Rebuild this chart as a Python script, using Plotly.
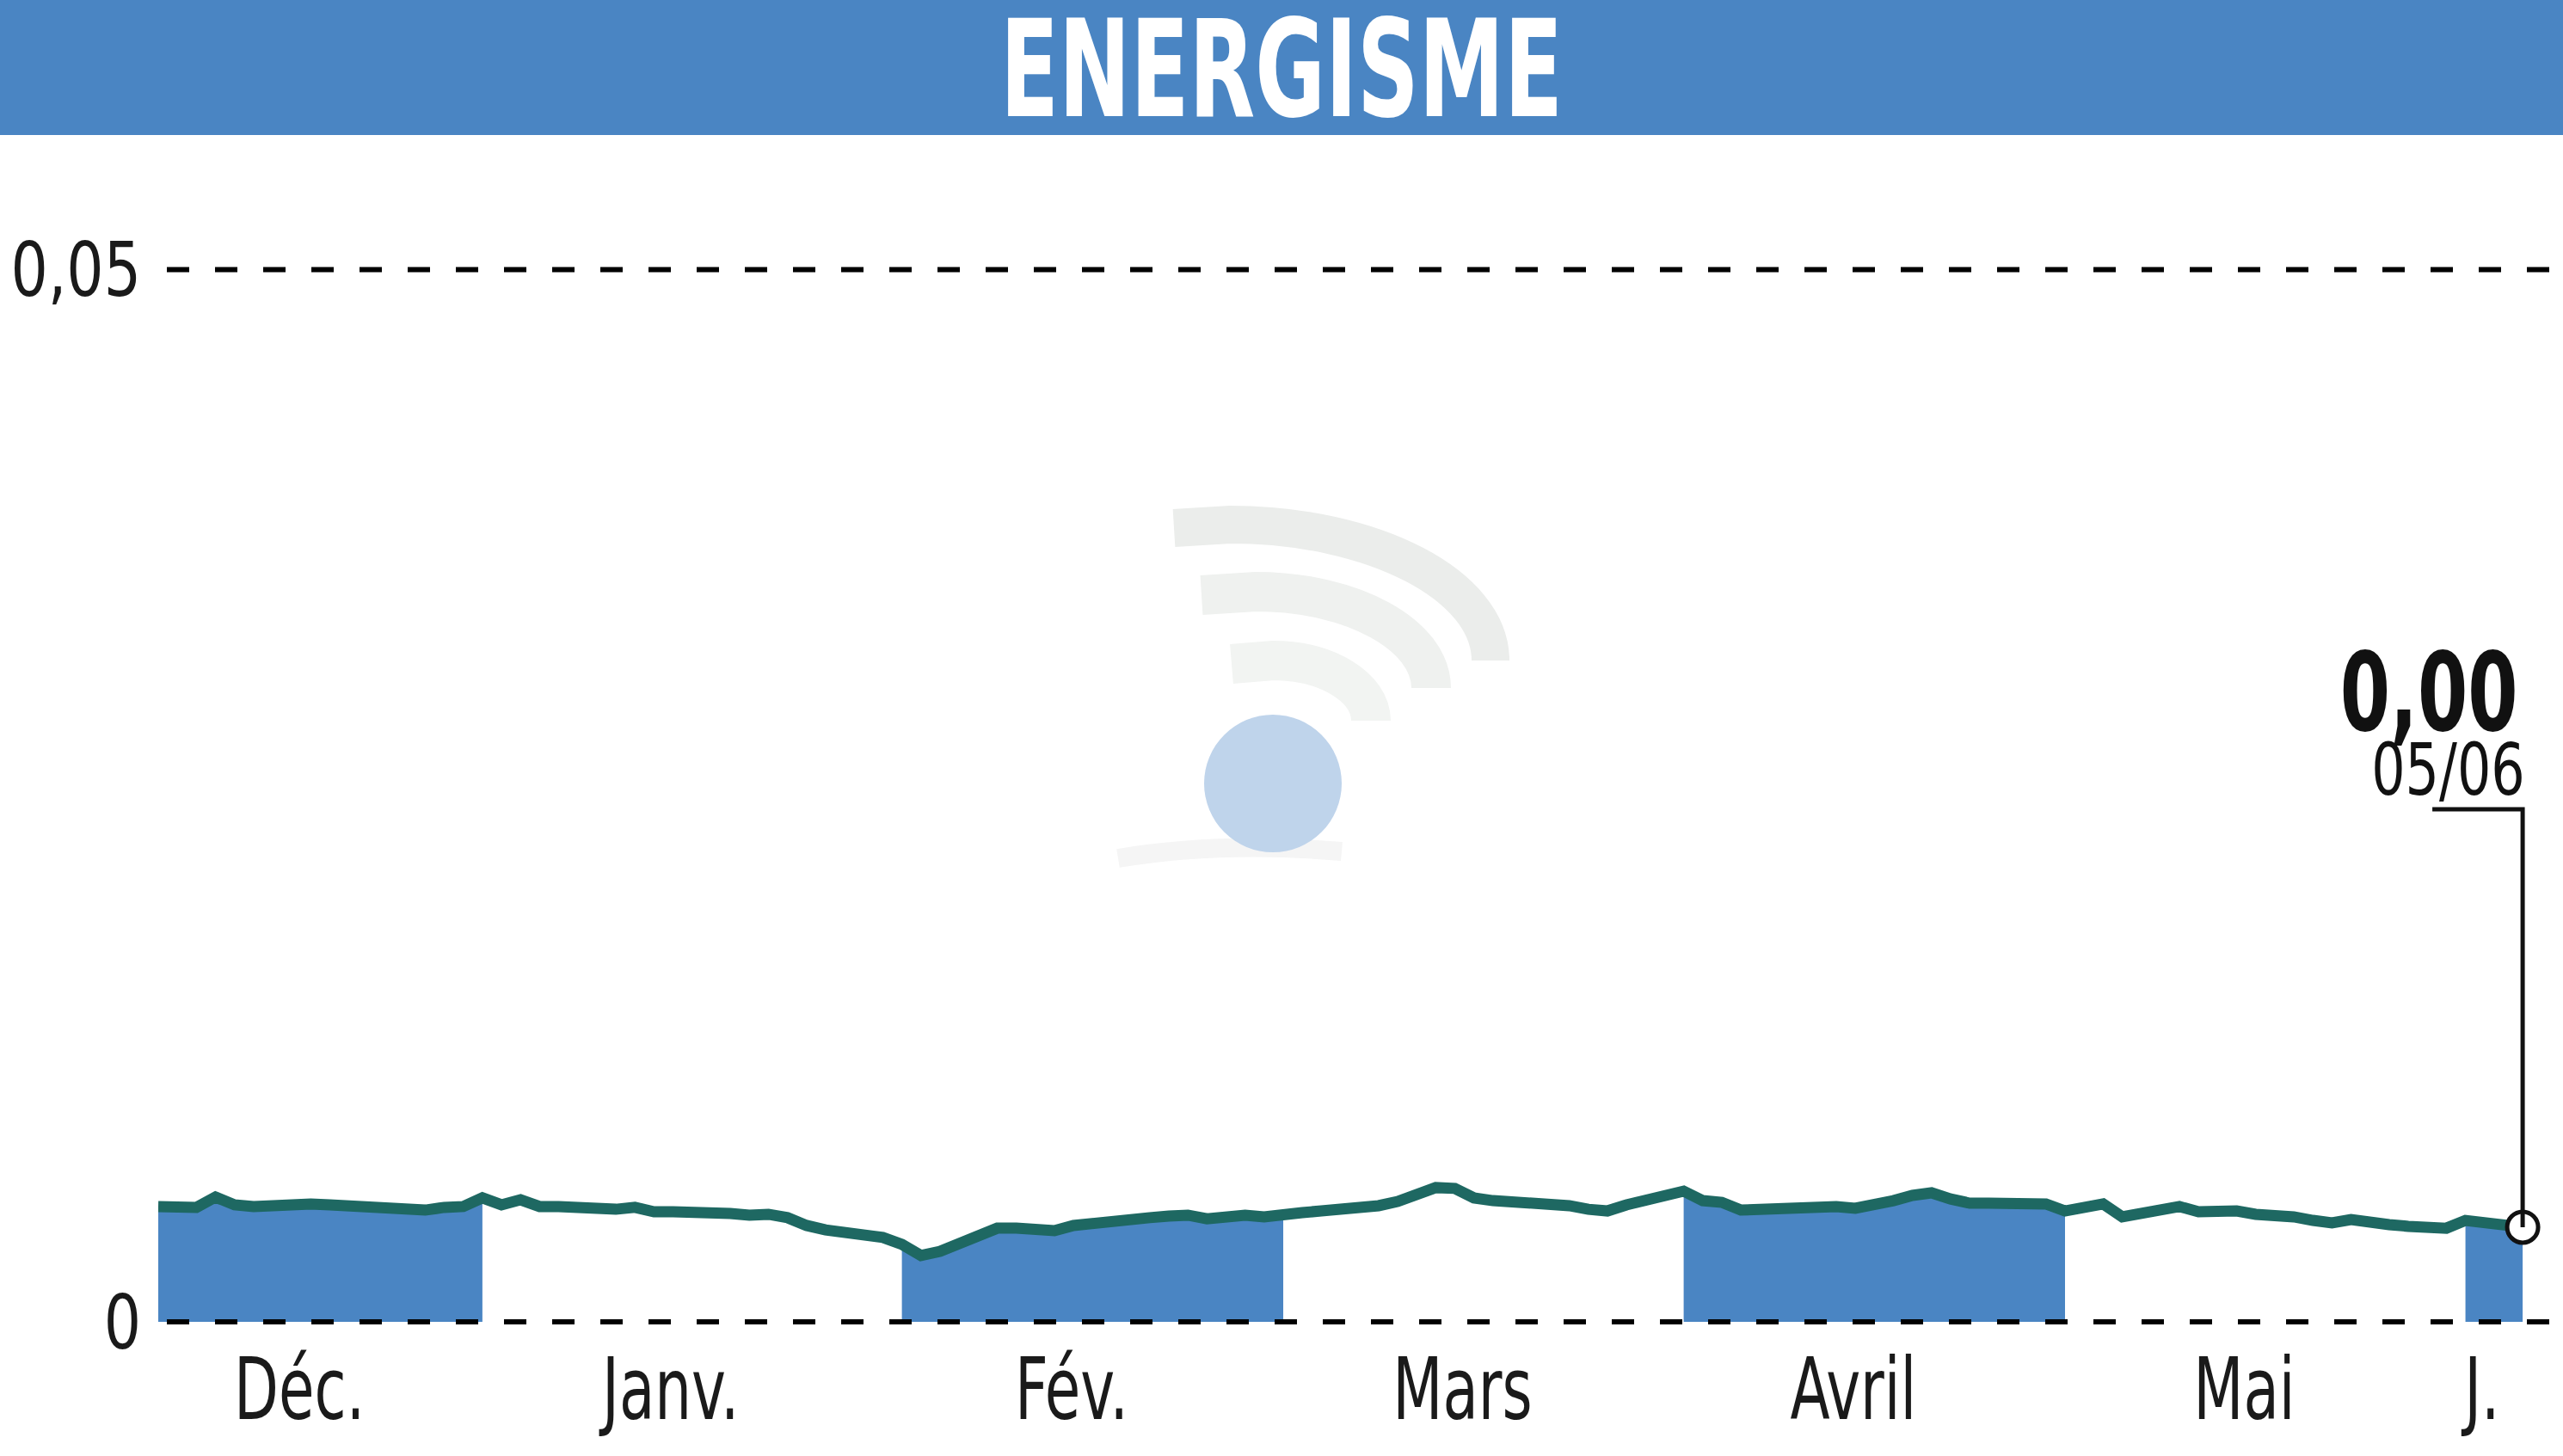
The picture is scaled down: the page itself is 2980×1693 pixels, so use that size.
import plotly.graph_objects as go
import pandas as pd

# ---------------- data ----------------
title_text = "ENERGISME"

# closing prices (EUR), one per trading day from 05/12/2024 to 05/06/2025
prices = [
    0.00548, 0.00552, 0.00544, 0.00593, 0.00556, 0.00548, 0.00556, 0.00564, 0.00560, 0.00556,
    0.00552, 0.00548, 0.00548, 0.00535, 0.00531, 0.00544, 0.00548, 0.00589, 0.00556, 0.00580,
    0.00548, 0.00548, 0.00544, 0.00535, 0.00535, 0.00544, 0.00523, 0.00523, 0.00523, 0.00527,
    0.00515, 0.00507, 0.00511, 0.00495, 0.00458, 0.00437, 0.00421, 0.00405, 0.00401, 0.00368,
    0.00315, 0.00335, 0.00368, 0.00405, 0.00445, 0.00445, 0.00433, 0.00433, 0.00458, 0.00470,
    0.00470, 0.00482, 0.00495, 0.00503, 0.00507, 0.00490, 0.00499, 0.00507, 0.00499, 0.00503,
    0.00519, 0.00527, 0.00531, 0.00540, 0.00552, 0.00572, 0.00601, 0.00638, 0.00634, 0.00589,
    0.00576, 0.00572, 0.00568, 0.00560, 0.00552, 0.00535, 0.00527, 0.00556, 0.00576, 0.00597,
    0.00621, 0.00576, 0.00568, 0.00531, 0.00535, 0.00535, 0.00531, 0.00540, 0.00548, 0.00540,
    0.00552, 0.00576, 0.00601, 0.00613, 0.00584, 0.00564, 0.00564, 0.00564, 0.00564, 0.00560,
    0.00527, 0.00544, 0.00560, 0.00499, 0.00515, 0.00531, 0.00548, 0.00523, 0.00527, 0.00527,
    0.00511, 0.00507, 0.00499, 0.00482, 0.00470, 0.00486, 0.00470, 0.00462, 0.00454, 0.00450,
    0.00445, 0.00482, 0.00470, 0.00458, 0.00450,
]

start_date = "2024-12-05"
end_date = "2025-06-05"
market_holidays = ["2024-12-25", "2024-12-26", "2025-01-01", "2025-04-18", "2025-04-21", "2025-05-01"]

month_labels = {12: "Déc.", 1: "Janv.", 2: "Fév.", 3: "Mars", 4: "Avril", 5: "Mai", 6: "J."}
shaded_months = [12, 2, 4, 6]

y_tickvals = [0, 0.05]
y_ticktext = ["0", "0,05"]

last_value_text = "0,00"
last_date_text = "05/06"

# ---------------- styling ----------------
BLUE = "#4a85c3"
LINE = "#1e6862"
FONT = "DejaVu Sans Condensed, Liberation Sans Narrow, DejaVu Sans, sans-serif"

W, H = 2980, 1693
L, R, T, B = 184, 2980, 157, 1549
PX_PER_DAY = 22.17
PX_PER_UNIT = 24468.0

dates = [d for d in pd.bdate_range(start_date, end_date) if d.strftime("%Y-%m-%d") not in market_holidays]
n = len(prices)
assert len(dates) == n, (len(dates), n)
idx = list(range(n))

x_max = (R - L) / PX_PER_DAY
y_min = -12.0 / PX_PER_UNIT
y_max = y_min + (B - T) / PX_PER_UNIT

# month groups
groups = []
for i, d in enumerate(dates):
    key = (d.year, d.month)
    if not groups or groups[-1][0] != key:
        groups.append([key, i, i])
    else:
        groups[-1][2] = i

fig = go.Figure()

# shaded month bands (area under the curve)
for gi, (key, i0, i1) in enumerate(groups):
    if key[1] in shaded_months:
        j1 = groups[gi + 1][1] if gi + 1 < len(groups) else i1
        fig.add_trace(go.Scatter(
            x=idx[i0:j1 + 1], y=prices[i0:j1 + 1], mode="lines",
            line=dict(width=0, color=BLUE), fill="tozeroy", fillcolor=BLUE,
            hoverinfo="skip", showlegend=False,
        ))

# price line
fig.add_trace(go.Scatter(
    x=idx, y=prices, mode="lines", line=dict(color=LINE, width=13),
    showlegend=False, hoverinfo="skip",
))

# last point marker
fig.add_trace(go.Scatter(
    x=[idx[-1]], y=[prices[-1]], mode="markers",
    marker=dict(size=36, color="white", line=dict(color="#111111", width=5)),
    showlegend=False, hoverinfo="skip",
))

# tick positions for months
tickvals, ticktext = [], []
for key, i0, i1 in groups:
    tickvals.append((i0 + i1) / 2 - 0.6)
    ticktext.append(month_labels[key[1]])


def px_x(p):
    return (p - L) / (R - L)


def px_y(p):
    return (B - p) / (B - T)


shapes = []
# title banner
shapes.append(dict(type="rect", xref="paper", yref="paper",
                   x0=px_x(-5), x1=px_x(W + 5), y0=px_y(T), y1=px_y(-5),
                   fillcolor=BLUE, line=dict(width=0), layer="below"))


# watermark (faint signal logo): quarter-ellipse arcs + ball
def arc_path(cx, cy, a, b, lead):
    k = 0.5523
    pts = [(cx - lead, cy - b + 4), (cx, cy - b),
           (cx + k * a, cy - b), (cx + a, cy - k * b), (cx + a, cy)]
    p = "M {:.5f},{:.5f} L {:.5f},{:.5f} C {:.5f},{:.5f} {:.5f},{:.5f} {:.5f},{:.5f}".format(
        *[v for (x, y) in pts for v in (px_x(x), px_y(y))])
    return p


arcs = [
    (1430, 768, 303, 158, 65, "#ebedeb", 44),
    (1460, 800, 204, 112, 63, "#eff1ef", 46),
    (1480, 838, 114, 70, 48, "#f2f4f2", 46),
]
for (cx, cy, a, b, lead, col, wdt) in arcs:
    shapes.append(dict(type="path", xref="paper", yref="paper", path=arc_path(cx, cy, a, b, lead),
                       line=dict(color=col, width=wdt), layer="below"))
shapes.append(dict(type="path", xref="paper", yref="paper",
                   path="M {:.5f},{:.5f} Q {:.5f},{:.5f} {:.5f},{:.5f}".format(
                       px_x(1300), px_y(998), px_x(1420), px_y(978), px_x(1560), px_y(990)),
                   line=dict(color="#f5f5f5", width=22), layer="below"))
shapes.append(dict(type="circle", xref="paper", yref="paper",
                   x0=px_x(1400), x1=px_x(1560), y0=px_y(991), y1=px_y(831),
                   fillcolor="#bfd4eb", line=dict(width=0), layer="below"))

# dashed reference lines
for v in y_tickvals:
    shapes.append(dict(type="line", xref="paper", yref="y",
                       x0=px_x(194), x1=1, y0=v, y1=v,
                       line=dict(color="black", width=6, dash="26px,30px"), layer="above"))

# connector from label to last point
last_px_x = L + idx[-1] / x_max * (R - L)
last_px_y = B - (prices[-1] - y_min) * PX_PER_UNIT
shapes.append(dict(type="path", xref="paper", yref="paper",
                   path="M {:.5f},{:.5f} L {:.5f},{:.5f} L {:.5f},{:.5f}".format(
                       px_x(last_px_x - 105), px_y(941), px_x(last_px_x), px_y(941),
                       px_x(last_px_x), px_y(last_px_y)),
                   line=dict(color="#111111", width=5), layer="above"))

annotations = [
    dict(text="<b>" + last_value_text + "</b>", xref="paper", yref="paper",
         x=px_x(2930), y=px_y(805), xanchor="right", yanchor="middle", showarrow=False,
         font=dict(family=FONT, size=126, color="#111111")),
    dict(text=last_date_text, xref="paper", yref="paper",
         x=px_x(2938), y=px_y(895), xanchor="right", yanchor="middle", showarrow=False,
         font=dict(family=FONT, size=84, color="#111111")),
]

fig.update_layout(
    width=W, height=H,
    margin=dict(l=L, r=W - R, t=T, b=H - B, pad=0, autoexpand=False),
    paper_bgcolor="white", plot_bgcolor="white",
    title=dict(text="<b>" + title_text + "</b>", x=0.5, xref="container", xanchor="center",
               y=1 - 80 / H, yref="container", yanchor="middle",
               font=dict(family=FONT, size=156, color="white")),
    shapes=shapes, annotations=annotations, showlegend=False,
    xaxis=dict(range=[0, x_max], showgrid=False, zeroline=False, showline=False,
               tickvals=tickvals, ticktext=ticktext, ticks="", automargin=False,
               ticklabelstandoff=0,
               tickfont=dict(family=FONT, size=100, color="#1a1a1a"), fixedrange=True),
    yaxis=dict(range=[y_min, y_max], showgrid=False, zeroline=False, showline=False,
               tickvals=y_tickvals, ticktext=y_ticktext, ticks="", automargin=False,
               ticklabelstandoff=19,
               tickfont=dict(family=FONT, size=88, color="#1a1a1a"), fixedrange=True),
)

# condensed look for the texts (horizontal squeeze of the real text elements)
post_js = """
document.body.style.margin = '0px';
var gd = document.getElementById('{plot_id}');
function sq(el, s, mode) {
  if (!el) return;
  var bb = el.getBBox();
  var cx = mode === 'end' ? bb.x + bb.width : (mode === 'start' ? bb.x : bb.x + bb.width / 2);
  var tr = el.getAttribute('transform') || '';
  el.setAttribute('transform', tr + ' translate(' + cx + ',0) scale(' + s + ',1) translate(' + (-cx) + ',0)');
}
gd.querySelectorAll('.xtick text').forEach(function (t) { sq(t, 0.75, 'middle'); });
gd.querySelectorAll('.ytick text').forEach(function (t) { sq(t, 0.86, 'end'); });
gd.querySelectorAll('.gtitle').forEach(function (t) { sq(t, 0.71, 'middle'); });
var ann = gd.querySelectorAll('.annotation');
if (ann.length > 0) sq(ann[0].querySelector('text'), 0.74, 'end');
if (ann.length > 1) sq(ann[1].querySelector('text'), 0.82, 'end');
"""

fig.write_html("out.html", post_script=post_js, config={"displayModeBar": False, "staticPlot": True})
